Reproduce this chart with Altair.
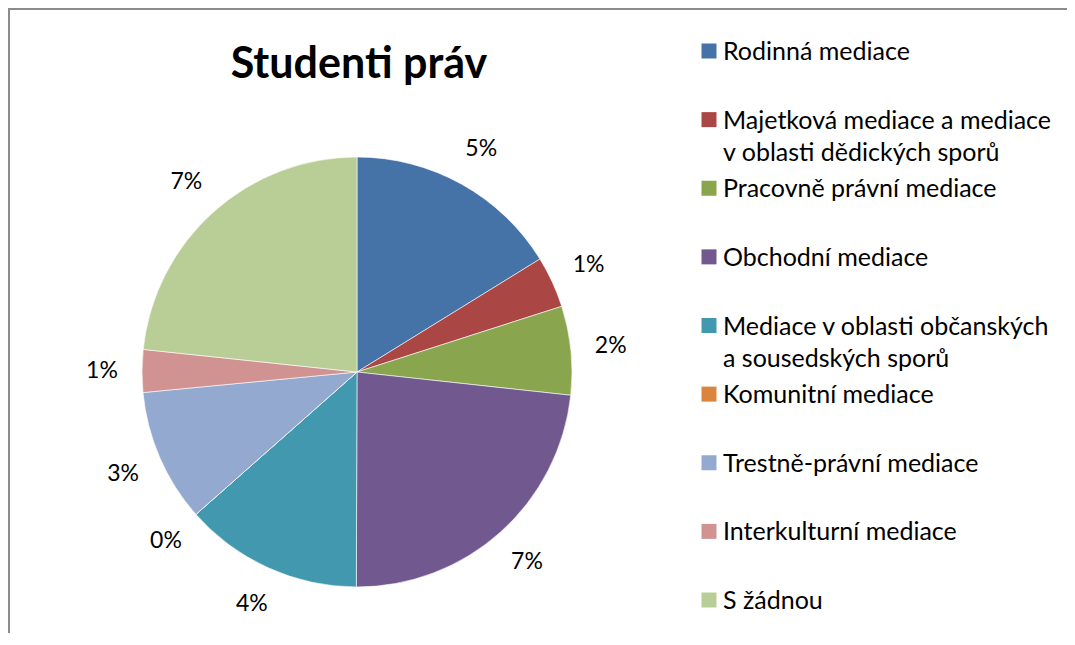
import altair as alt
import pandas as pd

title_text = "Studenti práv"
categories = [
    "Rodinná mediace",
    "Majetková mediace a mediace v oblasti dědických sporů",
    "Pracovně právní mediace",
    "Obchodní mediace",
    "Mediace v oblasti občanských a sousedských sporů",
    "Komunitní mediace",
    "Trestně-právní mediace",
    "Interkulturní mediace",
    "S žádnou",
]
legend_lines = [
    "Rodinná mediace",
    "Majetková mediace a mediace\nv oblasti dědických sporů",
    "Pracovně právní mediace",
    "Obchodní mediace",
    "Mediace v oblasti občanských\na sousedských sporů",
    "Komunitní mediace",
    "Trestně-právní mediace",
    "Interkulturní mediace",
    "S žádnou",
]
values = [4.86, 1.16, 2.0, 7.0, 4.03, 0.0, 3.0, 0.96, 7.0]
colors = ["#4572A7", "#AA4643", "#89A54E", "#71588F", "#4198AF",
          "#DB843D", "#93A9CF", "#D19392", "#B9CD96"]

df = pd.DataFrame({
    "category": categories,
    "legend": legend_lines,
    "value": values,
    "idx": list(range(len(categories))),
})

W, H = 1059, 625
FONT = "Lato"
cx, cy = 349, 364

color_scale = alt.Scale(domain=categories, range=colors)

base = alt.Chart(df)

pie = base.mark_arc(outerRadius=215, stroke="white", strokeWidth=0.6).encode(
    theta=alt.Theta("value:Q", stack=True),
    color=alt.Color("category:N", scale=color_scale, legend=None),
    order=alt.Order("idx:Q"),
    x=alt.value(cx), y=alt.value(cy),
)

labels = base.transform_calculate(frac="datum.value / 100").mark_text(
    radius=255, font=FONT, fontSize=23, color="black", align="center", baseline="middle"
).encode(
    theta=alt.Theta("value:Q", stack=True),
    order=alt.Order("idx:Q"),
    text=alt.Text("frac:Q", format=".0%"),
    x=alt.value(cx), y=alt.value(cy),
)

yscale = alt.Scale(type="point", domain=categories, range=[43, 592], padding=0)

leg_sq = base.mark_square(size=225, opacity=1, filled=True).encode(
    y=alt.Y("category:N", scale=yscale, axis=None),
    x=alt.value(701),
    color=alt.Color("category:N", scale=color_scale, legend=None),
)

leg_txt = base.mark_text(
    font=FONT, fontSize=25, color="black", align="left", baseline="alphabetic",
    dy=9, lineBreak="\n", lineHeight=32,
).encode(
    y=alt.Y("category:N", scale=yscale, axis=None),
    x=alt.value(715),
    text="legend:N",
)

title = alt.Chart(pd.DataFrame({"t": [title_text]})).mark_text(
    font=FONT, fontSize=43, fontWeight="bold", color="black",
    align="center", baseline="alphabetic",
).encode(text="t:N", x=alt.value(351), y=alt.value(70))

border_df = pd.DataFrame({"b": [0]})
left_border = alt.Chart(border_df).mark_rule(color="#8c8c8c", strokeWidth=2).encode(
    x=alt.value(1), y=alt.value(0), y2=alt.value(H))
top_border = alt.Chart(border_df).mark_rule(color="#8c8c8c", strokeWidth=2).encode(
    y=alt.value(1), x=alt.value(0), x2=alt.value(W))

chart = alt.layer(left_border, top_border, pie, labels, leg_sq, leg_txt, title).properties(
    width=W, height=H, padding=0, autosize=alt.AutoSizeParams(type="none")
).configure_view(stroke=None)

chart.save("out.html", embed_options={"renderer": "svg", "actions": False})
